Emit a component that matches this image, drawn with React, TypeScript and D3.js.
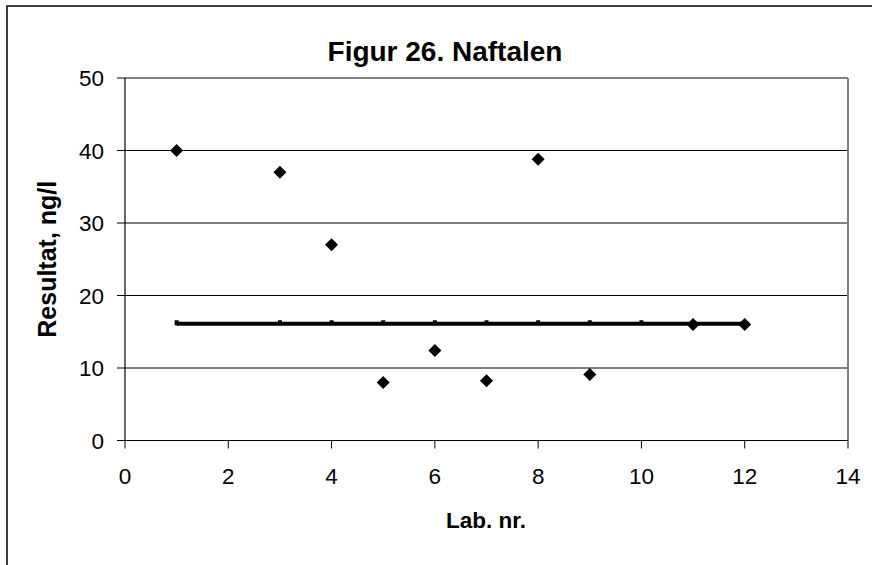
import React from "react";
import * as d3 from "d3";

const labs = [1, 3, 4, 5, 6, 7, 8, 9, 11, 12];
const results = [40, 37, 27, 8, 12.4, 8.25, 38.8, 9.1, 16, 16];
const meanLabs = [1, 3, 4, 5, 6, 7, 8, 9, 10, 11, 12];
const meanValue = 16.1;
const xTicks = [0, 2, 4, 6, 8, 10, 12, 14];
const yTicks = [0, 10, 20, 30, 40, 50];
const title = "Figur 26. Naftalen";
const xTitle = "Lab. nr.";
const yTitle = "Resultat, ng/l";

export default function App() {
  const W = 872, H = 565;
  const left = 125, right = 848, top = 78, bottom = 440.5;
  const x = d3.scaleLinear().domain([0, 14]).range([left, right]);
  const y = d3.scaleLinear().domain([0, 50]).range([bottom, top]);
  const font = "Arial, 'Liberation Sans', sans-serif";
  const line = d3.line<number>().x((d) => x(d)).y(() => y(meanValue));
  const diamond = (cx: number, cy: number, r: number) =>
    `M${cx},${cy - r}L${cx + r},${cy}L${cx},${cy + r}L${cx - r},${cy}Z`;
  return (
    <svg width={W} height={H} style={{ position: "absolute", left: 0, top: 0, background: "#fff" }} fontFamily={font}>
      <rect x={0} y={0} width={W} height={H} fill="#fff" />
      <rect x={7} y={6} width={W + 20} height={H + 20} fill="none" stroke="#000" strokeWidth={1.5} />
      <text x={445} y={61} textAnchor="middle" fontSize={28} fontWeight="bold">{title}</text>
      {yTicks.filter((t) => t > 0 && t < 50).map((t) => (
        <line key={"g" + t} x1={left} x2={right} y1={y(t)} y2={y(t)} stroke="#000" strokeWidth={1} />
      ))}
      <line x1={left} x2={right} y1={top} y2={top} stroke="#808080" strokeWidth={2} />
      <line x1={right} x2={right} y1={top} y2={bottom} stroke="#808080" strokeWidth={2} />
      <line x1={left} x2={left} y1={top} y2={bottom} stroke="#000" strokeWidth={1.2} />
      <line x1={left} x2={right} y1={bottom} y2={bottom} stroke="#000" strokeWidth={1.2} />
      {yTicks.map((t) => (
        <g key={"y" + t}>
          <line x1={left - 8} x2={left} y1={y(t)} y2={y(t)} stroke="#000" strokeWidth={1} />
          <text x={104} y={y(t) + 8} textAnchor="end" fontSize={22.5}>{t}</text>
        </g>
      ))}
      {xTicks.map((t) => (
        <g key={"x" + t}>
          <line x1={x(t)} x2={x(t)} y1={bottom} y2={bottom + 8} stroke="#000" strokeWidth={1} />
          <text x={x(t)} y={484} textAnchor="middle" fontSize={22.5}>{t}</text>
        </g>
      ))}
      <text x={486} y={528} textAnchor="middle" fontSize={22.5} fontWeight="bold">{xTitle}</text>
      <text transform={`translate(56,${(top + bottom) / 2}) rotate(-90)`} textAnchor="middle" fontSize={25} fontWeight="bold">{yTitle}</text>
      <path d={line(meanLabs) || ""} fill="none" stroke="#000" strokeWidth={4} />
      {meanLabs.map((l) => (
        <rect key={"m" + l} x={x(l) - 2} y={y(meanValue) - 3.5} width={4} height={5} fill="#000" />
      ))}
      {labs.map((l, i) => (
        <path key={"d" + l} d={diamond(x(l), y(results[i]), 6.5)} fill="#000" />
      ))}
    </svg>
  );
}
